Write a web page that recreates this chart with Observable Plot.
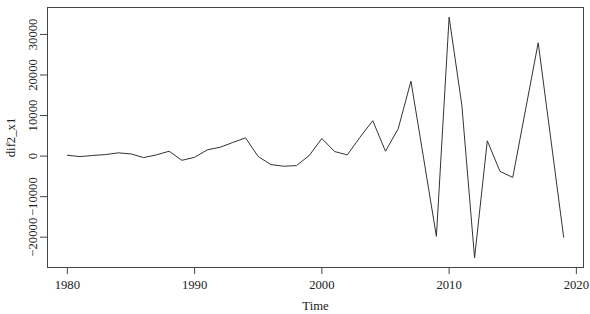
<!DOCTYPE html>
<html>
<head>
<meta charset="utf-8">
<script src="https://cdn.jsdelivr.net/npm/d3@7"></script>
<script src="https://cdn.jsdelivr.net/npm/@observablehq/plot@0.6"></script>
<style>
  html, body { margin: 0; padding: 0; background: #fff; }
  #chart svg { display: block; font-family: "Liberation Serif", Times, serif !important; }
  #chart svg text { font-family: "Liberation Serif", Times, serif !important; }
</style>
</head>
<body>
<div id="chart"></div>
<script>
const years = [1980,1981,1982,1983,1984,1985,1986,1987,1988,1989,
               1990,1991,1992,1993,1994,1995,1996,1997,1998,1999,
               2000,2001,2002,2003,2004,2005,2006,2007,2008,2009,
               2010,2011,2012,2013,2014,2015,2016,2017,2018,2019];
const values = [200,-120,150,370,800,540,-370,300,1200,-1040,
                -300,1540,2180,3350,4500,-120,-2100,-2500,-2350,120,
                4340,1120,300,4660,8730,1200,6750,18480,-600,-19800,
                34270,12520,-25100,3770,-3770,-5260,11360,27950,4000,-20000];
const xTicks = [1980,1990,2000,2010,2020];
const yTicks = [-20000,-10000,0,10000,20000,30000];
const xLabel = "Time";
const yLabel = "dif2_x1";

const data = years.map((t, i) => ({t, v: values[i]}));

// R-style 4% padding of the data range
function pad(ext) { const d = (ext[1] - ext[0]) * 0.04; return [ext[0] - d, ext[1] + d]; }
const xDom = pad(d3.extent(years));
const yDom = pad(d3.extent(values));

const fmtY = d => d < 0 ? "\u2212" + Math.abs(d) : String(d);

const chart = Plot.plot({
  width: 590,
  height: 314,
  marginLeft: 47,
  marginRight: 7,
  marginTop: 7,
  marginBottom: 47,
  style: { fontFamily: "Liberation Serif", fontSize: "12.7px", background: "#fff", color: "#222" },
  x: { domain: xDom },
  y: { domain: yDom },
  marks: [
    Plot.frame({ stroke: "#444", strokeWidth: 1 }),
    Plot.axisX({ ticks: xTicks, tickFormat: d => String(d), tickSize: 7, tickPadding: 5, stroke: "#444",
                 label: xLabel, labelAnchor: "center", labelArrow: "none", labelOffset: 42, fontSize: 12.7 }),
    Plot.axisY({ ticks: yTicks, tickFormat: fmtY, tickSize: 7, tickPadding: 4, tickRotate: -90, stroke: "#444",
                 label: yLabel, labelAnchor: "center", labelArrow: "none", labelOffset: 42, fontSize: 12.7 }),
    Plot.line(data, { x: "t", y: "v", stroke: "#333", strokeWidth: 1 })
  ]
});
document.getElementById("chart").appendChild(chart);
</script>
</body>
</html>
